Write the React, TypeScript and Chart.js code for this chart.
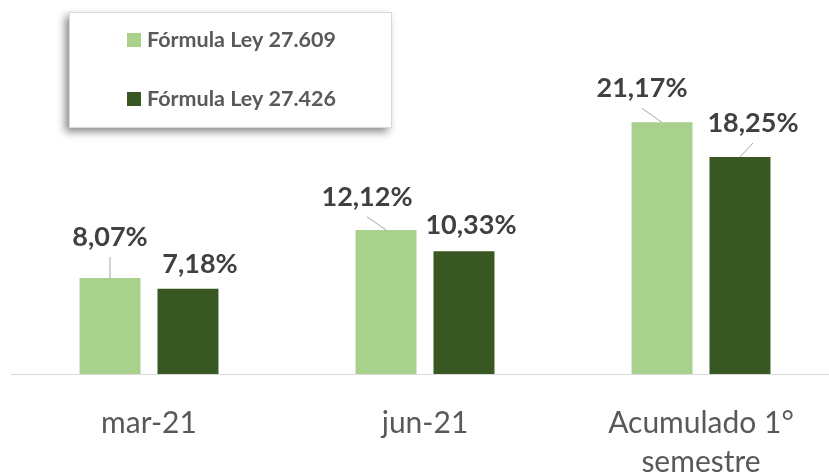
import React, { useEffect, useRef } from "react";
import { Chart, registerables } from "chart.js";

Chart.register(...registerables);

// ---- data ----
const categories: string[][] = [["mar-21"], ["jun-21"], ["Acumulado 1°", "semestre"]];
const seriesNames = ["Fórmula Ley 27.609", "Fórmula Ley 27.426"];
const ley27609 = [8.07, 12.12, 21.17];
const ley27426 = [7.18, 10.33, 18.25];

// ---- style / layout ----
const colors = ["#A9D18E", "#385723"];
const FONT = "Lato, 'Open Sans', sans-serif";
// manual label offsets relative to bar top-center (Excel moved labels)
const labelOffsets = [
  [
    { dx: 0, dy: -41, leader: true },
    { dx: -19, dy: -33, leader: true },
    { dx: -20, dy: -34, leader: true },
  ],
  [
    { dx: 12, dy: -24, leader: false },
    { dx: 7, dy: -26, leader: false },
    { dx: 13, dy: -34, leader: true },
  ],
];

const fmt = (v: number) => v.toFixed(2).replace(".", ",") + "%";

const labelPlugin = {
  id: "valueLabels",
  afterDatasetsDraw(chart: any) {
    const ctx = chart.ctx as CanvasRenderingContext2D;
    ctx.save();
    chart.data.datasets.forEach((ds: any, di: number) => {
      const meta = chart.getDatasetMeta(di);
      meta.data.forEach((bar: any, i: number) => {
        const off = labelOffsets[di][i];
        const lx = bar.x + off.dx;
        const ly = bar.y + off.dy;
        if (off.leader) {
          ctx.strokeStyle = "#A6A6A6";
          ctx.lineWidth = 1;
          ctx.beginPath();
          ctx.moveTo(lx, ly + 20);
          ctx.lineTo(bar.x, bar.y);
          ctx.stroke();
        }
        ctx.fillStyle = "#404040";
        ctx.font = `bold 27px ${FONT}`;
        ctx.textAlign = "center";
        ctx.textBaseline = "middle";
        ctx.fillText(fmt(ds.data[i]), lx, ly);
      });
    });
    ctx.restore();
  },
};

const legendPlugin = {
  id: "boxLegend",
  afterDraw(chart: any) {
    const ctx = chart.ctx as CanvasRenderingContext2D;
    const bx = 69, by = 12, bw = 323, bh = 116;
    ctx.save();
    ctx.shadowColor = "rgba(0,0,0,0.45)";
    ctx.shadowBlur = 8;
    ctx.shadowOffsetX = -4;
    ctx.shadowOffsetY = 4;
    ctx.fillStyle = "#FFFFFF";
    ctx.fillRect(bx, by, bw, bh);
    ctx.restore();
    ctx.save();
    ctx.strokeStyle = "#D9D9D9";
    ctx.lineWidth = 1;
    ctx.strokeRect(bx + 0.5, by + 0.5, bw - 1, bh - 1);
    const rows = [40, 99];
    chart.data.datasets.forEach((ds: any, di: number) => {
      const cy = rows[di];
      ctx.fillStyle = ds.backgroundColor;
      ctx.fillRect(127, cy - 7, 14, 14);
      ctx.fillStyle = "#595959";
      ctx.font = `bold 21.5px ${FONT}`;
      ctx.textAlign = "left";
      ctx.textBaseline = "middle";
      ctx.fillText(ds.label, 147, cy);
    });
    ctx.restore();
  },
};

export default function App() {
  const ref = useRef<HTMLCanvasElement | null>(null);
  useEffect(() => {
    if (!ref.current) return;
    const chart = new Chart(ref.current, {
      type: "bar",
      data: {
        labels: categories,
        datasets: [
          { label: seriesNames[0], data: ley27609, backgroundColor: colors[0], borderWidth: 0 },
          { label: seriesNames[1], data: ley27426, backgroundColor: colors[1], borderWidth: 0 },
        ],
      },
      options: {
        responsive: false,
        animation: false,
        devicePixelRatio: 1,
        layout: { padding: { left: 11, right: 0, top: 0, bottom: 0 } },
        datasets: { bar: { categoryPercentage: 0.565, barPercentage: 0.782 } },
        plugins: { legend: { display: false }, tooltip: { enabled: false } },
        scales: {
          x: {
            grid: { display: false, drawTicks: false },
            border: { display: true, color: "#D9D9D9", width: 1 },
            ticks: {
              color: "#595959",
              font: { family: FONT, size: 30, lineHeight: 1.3 },
              padding: 30,
              maxRotation: 0,
              autoSkip: false,
            },
            afterFit: (scale: any) => {
              scale.height = 99;
            },
          },
          y: { display: false, min: 0, max: 31.46 },
        },
      },
      plugins: [labelPlugin, legendPlugin],
    } as any);
    return () => chart.destroy();
  }, []);
  return (
    <div
      style={{
        position: "fixed",
        left: 0,
        top: 0,
        width: 829,
        height: 473,
        overflow: "hidden",
        background: "#FFFFFF",
      }}
    >
      <canvas ref={ref} width={839} height={473} style={{ display: "block" }} />
    </div>
  );
}
